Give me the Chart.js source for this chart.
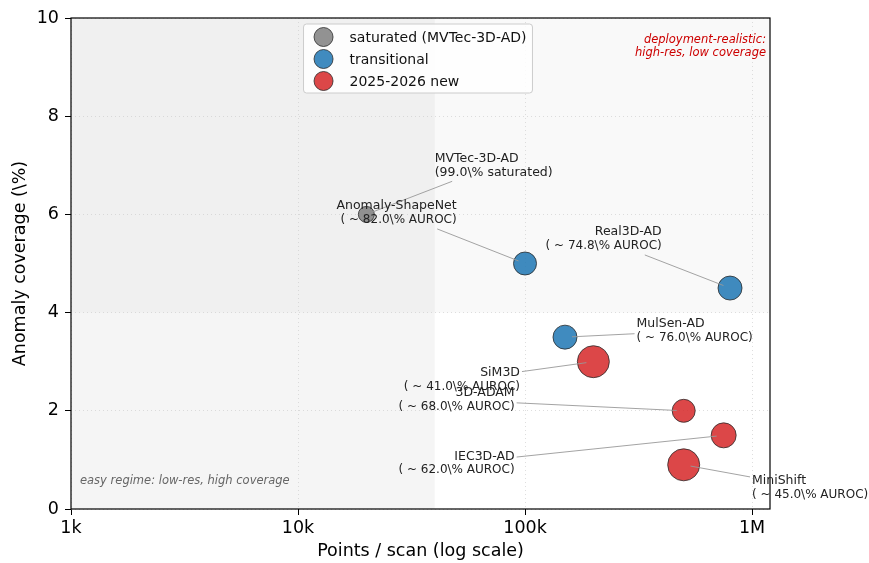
<!DOCTYPE html>
<html>
<head>
<meta charset="utf-8">
<script src="https://cdn.jsdelivr.net/npm/chart.js@4.4.1/dist/chart.umd.min.js"></script>
<style>
  html, body { margin: 0; padding: 0; background: #ffffff; }
  #wrap { width: 869px; height: 563px; }
</style>
</head>
<body>
<div id="wrap"><canvas id="c" width="869" height="563"></canvas></div>
<script>
// ---------------- data ----------------
const names = ['MVTec-3D-AD', 'Anomaly-ShapeNet', 'Real3D-AD', 'MulSen-AD', 'SiM3D', '3D-ADAM', 'IEC3D-AD', 'MiniShift'];
const pointsPerScan = [20000, 100000, 800000, 150000, 200000, 500000, 750000, 500000];
const coveragePct = [6.0, 5.0, 4.5, 3.5, 3.0, 2.0, 1.5, 0.9];
const scorePct = [99.0, 82.0, 74.8, 76.0, 41.0, 68.0, 62.0, 45.0];
const groups = ['saturated', 'transitional', 'transitional', 'transitional', 'new', 'new', 'new', 'new'];
const groupKeys = ['saturated', 'transitional', 'new'];
const groupLabels = ['saturated (MVTec-3D-AD)', 'transitional', '2025-2026 new'];
const xTickValues = [1000, 10000, 100000, 1000000];
const xTickLabels = ['1k', '10k', '100k', '1M'];
const yTickValues = [0, 2, 4, 6, 8, 10];

// ---------------- styling / placement ----------------
const groupColors = ['rgba(127,127,127,0.85)', 'rgba(31,119,180,0.85)', 'rgba(214,39,40,0.85)'];
const markerRadius = [8, 11.5, 12, 12, 16, 11.5, 12.5, 16];
// annotation anchor in data units + alignment
const labelPlacement = [
  { x: 40000, y: 7.0, align: 'left' },
  { x: 50000, y: 6.03, align: 'right' },
  { x: 400000, y: 5.5, align: 'right' },
  { x: 310000, y: 3.63, align: 'left' },
  { x: 95000, y: 2.63, align: 'right' },
  { x: 90000, y: 2.22, align: 'right' },
  { x: 90000, y: 0.93, align: 'right' },
  { x: 1000000, y: 0.43, align: 'left' }
];
const regionSplitX = 40000;
const regionSplitY = 4;
const FONT = '"DejaVu Sans", "Liberation Sans", sans-serif';

function labelLines(i) {
  const sat = groups[i] === 'saturated';
  const second = sat
    ? '(' + scorePct[i].toFixed(1) + '\\% saturated)'
    : '( ~ ' + scorePct[i].toFixed(1) + '\\% AUROC)';
  return [{ s: names[i], f: 12.5 }, { s: second, f: sat ? 12.5 : 12 }];
}

const datasets = groupKeys.map((g, gi) => {
  const idx = names.map((_, i) => i).filter(i => groups[i] === g);
  return {
    label: groupLabels[gi],
    data: idx.map(i => ({ x: pointsPerScan[i], y: coveragePct[i] })),
    pointRadius: idx.map(i => markerRadius[i]),
    pointHoverRadius: idx.map(i => markerRadius[i]),
    backgroundColor: groupColors[gi],
    borderColor: '#2b2b2b',
    borderWidth: 0.8
  };
});

const bgPlugin = {
  id: 'bg',
  beforeDraw(chart) {
    const { ctx, chartArea: a, scales } = chart;
    const xs = scales.x.getPixelForValue(regionSplitX);
    const ys = scales.y.getPixelForValue(regionSplitY);
    ctx.save();
    ctx.fillStyle = '#f5f5f5';
    ctx.fillRect(a.left, a.top, xs - a.left, a.bottom - a.top);
    ctx.fillStyle = '#f9f9f9';
    ctx.fillRect(xs, a.top, a.right - xs, ys - a.top);
    ctx.fillStyle = '#f0f0f0';
    ctx.fillRect(a.left, a.top, xs - a.left, ys - a.top);
    ctx.restore();
  }
};

const overlayPlugin = {
  id: 'overlay',
  afterDatasetsDraw(chart) {
    const { ctx, chartArea: a, scales } = chart;
    ctx.save();
    // frame
    ctx.strokeStyle = '#000';
    ctx.lineWidth = 1.2;
    ctx.strokeRect(a.left, a.top, a.right - a.left, a.bottom - a.top);

    // annotations
    const lh = 14;
    names.forEach((n, i) => {
      const lines = labelLines(i);
      const p = labelPlacement[i];
      const ax = scales.x.getPixelForValue(p.x);
      const ay = scales.y.getPixelForValue(p.y);
      const w = Math.max(...lines.map(L => { ctx.font = L.f + 'px ' + FONT; return ctx.measureText(L.s).width; }));
      const h = lines.length * lh;
      let left = p.align === 'left' ? ax : ax - w;
      const top = ay - h / 2;
      const pad = 2;
      const bx0 = left - pad, bx1 = left + w + pad, by0 = top - pad, by1 = top + h + pad;
      const cx = (bx0 + bx1) / 2, cy = (by0 + by1) / 2;
      const px = scales.x.getPixelForValue(pointsPerScan[i]);
      const py = scales.y.getPixelForValue(coveragePct[i]);
      const dx = px - cx, dy = py - cy;
      let t = 1;
      if (dx !== 0) t = Math.min(t, ((dx > 0 ? bx1 : bx0) - cx) / dx);
      if (dy !== 0) t = Math.min(t, ((dy > 0 ? by1 : by0) - cy) / dy);
      const sx = cx + dx * t, sy = cy + dy * t;
      const len = Math.hypot(px - sx, py - sy);
      const shrink = 7;
      const ex = px - (px - sx) / len * shrink, ey = py - (py - sy) / len * shrink;
      ctx.strokeStyle = '#999999';
      ctx.lineWidth = 0.9;
      ctx.beginPath();
      ctx.moveTo(sx, sy);
      ctx.lineTo(ex, ey);
      ctx.stroke();
      ctx.fillStyle = '#222222';
      ctx.textBaseline = 'middle';
      ctx.textAlign = p.align;
      lines.forEach((L, k) => {
        ctx.font = L.f + 'px ' + FONT;
        ctx.fillText(L.s, ax, top + lh / 2 + k * lh);
      });
    });

    // region notes
    ctx.font = 'italic 11.5px ' + FONT;
    ctx.fillStyle = '#cc0000';
    ctx.textAlign = 'right';
    ctx.textBaseline = 'middle';
    ctx.fillText('deployment-realistic:', a.right - 4, a.top + 22);
    ctx.fillText('high-res, low coverage', a.right - 4, a.top + 35);
    ctx.fillStyle = '#666666';
    ctx.textAlign = 'left';
    ctx.fillText('easy regime: low-res, high coverage', a.left + 9, a.bottom - 28);

    // legend
    ctx.font = '14px ' + FONT;
    const tw = Math.max(...groupLabels.map(s => ctx.measureText(s).width));
    const boxW = 46 + tw + 6;
    const boxH = 69;
    const bx = (a.left + a.right) / 2 - 2.5 - boxW / 2;
    const by = a.top + 6;
    ctx.beginPath();
    if (ctx.roundRect) ctx.roundRect(bx, by, boxW, boxH, 3); else ctx.rect(bx, by, boxW, boxH);
    ctx.fillStyle = 'rgba(255,255,255,0.85)';
    ctx.fill();
    ctx.strokeStyle = '#cccccc';
    ctx.lineWidth = 1;
    ctx.stroke();
    groupLabels.forEach((s, k) => {
      const yy = by + 13 + k * 22;
      ctx.beginPath();
      ctx.arc(bx + 20, yy, 9.5, 0, Math.PI * 2);
      ctx.fillStyle = groupColors[k];
      ctx.fill();
      ctx.strokeStyle = '#2b2b2b';
      ctx.lineWidth = 0.8;
      ctx.stroke();
      ctx.fillStyle = '#111111';
      ctx.textAlign = 'left';
      ctx.textBaseline = 'middle';
      ctx.fillText(s, bx + 46, yy + 1);
    });
    ctx.restore();
  }
};

new Chart(document.getElementById('c'), {
  type: 'scatter',
  data: { datasets },
  options: {
    responsive: false,
    animation: false,
    devicePixelRatio: 1,
    layout: { padding: { left: 0, top: 18, right: 99, bottom: 0 } },
    plugins: { legend: { display: false }, tooltip: { enabled: false } },
    scales: {
      x: {
        type: 'logarithmic',
        min: 1000,
        max: 1200000,
        afterBuildTicks(s) { s.ticks = xTickValues.map(v => ({ value: v })); },
        afterFit(s) { s.height = 54; },
        ticks: {
          autoSkip: false,
          maxRotation: 0,
          padding: 3,
          color: '#000',
          font: { family: FONT, size: 17.5 },
          callback(v) { const k = xTickValues.indexOf(v); return k >= 0 ? xTickLabels[k] : ''; }
        },
        grid: { color: 'rgba(200,200,200,0.6)', tickColor: '#000', tickLength: 6, tickWidth: 1 },
        border: { display: false, dash: [1, 3] },
        title: { display: true, text: 'Points / scan (log scale)', color: '#000', font: { family: FONT, size: 17.5 }, padding: { top: 0, bottom: 1 } }
      },
      y: {
        min: 0,
        max: 10,
        afterBuildTicks(s) { s.ticks = yTickValues.map(v => ({ value: v })); },
        afterFit(s) { s.width = 71; },
        ticks: { padding: 6, color: '#000', font: { family: FONT, size: 17.5 } },
        grid: { color: 'rgba(200,200,200,0.6)', tickColor: '#000', tickLength: 6, tickWidth: 1 },
        border: { display: false, dash: [1, 3] },
        title: { display: true, text: 'Anomaly coverage (\\%)', color: '#000', font: { family: FONT, size: 17.5 }, padding: { top: 10, bottom: 0 } }
      }
    }
  },
  plugins: [bgPlugin, overlayPlugin]
});
</script>
</body>
</html>
